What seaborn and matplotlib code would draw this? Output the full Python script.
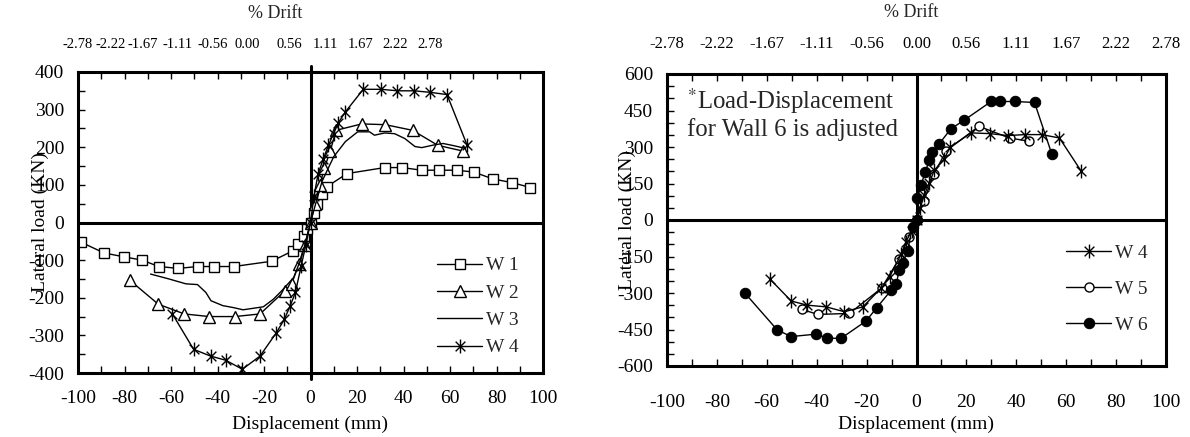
import matplotlib
matplotlib.use("Agg")
import matplotlib.pyplot as plt
from matplotlib.path import Path
from matplotlib.ticker import MultipleLocator
import seaborn as sns
import pandas as pd

# envelope curves (displacement mm, lateral load kN)
w1_x = [-98.8, -88.8, -80.4, -72.5, -65.2, -56.8, -48.6, -41.3, -33.0, -16.7, -7.5, -5.2, -3.0, -1.5, 0, 1.5, 3.0, 5.0, 7.0, 15.7, 31.9, 39.4, 47.8, 55.4, 62.8, 70.3, 78.3, 86.7, 94.6]
w1_y = [-52, -81, -91, -100, -117, -122, -117, -117, -117, -103, -75, -57, -35, -18, 0, 25, 50, 76, 95, 130, 146, 146, 139, 139, 139, 134, 116, 106, 93]

w2_x = [-77.8, -65.5, -54.3, -43.5, -32.6, -21.7, -10.9, -8.1, -5.0, -2.5, 0, 2.0, 4.0, 6.0, 8.5, 11.0, 22.0, 32.2, 43.9, 54.8, 65.5]
w2_y = [-153, -217, -243, -250, -250, -243, -181, -163, -110, -60, 0, 50, 100, 145, 190, 245, 262, 260, 245, 205, 190]

w3_x = [-68.8, -60.9, -53.6, -48.6, -45.0, -42.8, -37.7, -33.3, -29.0, -24.6, -20.3, -16.0, -12.3, -7.2, -4.0, -2.0, 0, 2.0, 5.0, 10.0, 15.0, 20.3, 25.4, 27.5, 31.9, 36.2, 40.6, 44.9, 47.8, 53.0, 57.0, 61.0, 66.7]
w3_y = [-137, -150, -163, -165, -186, -208, -221, -226, -232, -228, -224, -204, -181, -146, -95, -50, 0, 45, 110, 175, 215, 241, 241, 232, 238, 236, 223, 202, 199, 206, 210, 205, 197]

w4_x = [-59.4, -50.3, -43.0, -36.5, -29.3, -21.7, -14.8, -11.2, -8.7, -6.5, -4.0, -2.0, 0, 1.5, 3.3, 5.5, 7.7, 9.9, 12.0, 15.0, 22.7, 30.4, 37.4, 44.5, 51.4, 58.7, 67.4]
w4_y = [-243, -337, -355, -366, -390, -355, -294, -257, -221, -186, -115, -60, 0, 70, 130, 169, 205, 236, 265, 294, 354, 354, 350, 350, 346, 340, 205]

# right panel
r4_x = [-58.9, -50.2, -43.8, -36.2, -28.9, -21.5, -14.1, -10.8, -6.1, -4.3, -2.0, 0, 1.5, 3.1, 5.2, 7.1, 11.2, 13.5, 21.9, 29.3, 36.6, 43.6, 50.2, 57.3, 66.0]
r4_y = [-241, -333, -350, -357, -377, -357, -279, -234, -139, -91, -45, 0, 50, 102, 154, 204, 252, 300, 358, 355, 347, 351, 351, 337, 201]

w5_x = [-46.0, -39.6, -26.9, -14.0, -7.0, -3.0, 0, 3.0, 7.0, 12.0, 25.0, 37.3, 44.9]
w5_y = [-367, -388, -384, -280, -160, -70, 0, 80, 190, 285, 385, 337, 324]

w6_x = [-68.9, -55.8, -50.2, -40.2, -35.8, -30.2, -20.2, -15.9, -10.1, -8.1, -7.0, -5.6, -3.6, -1.6, 0, 0.4, 1.8, 3.5, 5.1, 6.4, 9.1, 13.8, 19.1, 29.9, 33.5, 39.3, 47.3, 54.2]
w6_y = [-299, -452, -479, -469, -486, -486, -415, -360, -288, -265, -207, -177, -129, -27, 0, 89, 143, 197, 245, 279, 313, 375, 410, 487, 487, 487, 483, 272]

mm_ticks = list(range(-100, 101, 20))
drift_labels = ["-2.78", "-2.22", "-1.67", "-1.11", "-0.56", "0.00", "0.56", "1.11", "1.67", "2.22", "2.78"]
# the drift labels of the left chart sit in a narrower band than the mm axis
left_drift_pos = [-100, -86, -72, -57, -42, -27, -9, 6.5, 21.5, 36.5, 51.5]

sns.set_theme(style="ticks")
plt.rcParams["font.family"] = ["Liberation Serif", "DejaVu Serif"]
plt.rcParams["mathtext.fontset"] = "stix"
plt.rcParams["axes.unicode_minus"] = False

# excel style asterisk: x plus a vertical bar
star = Path([(0, -1), (0, 1), (-0.7, -0.7), (0.7, 0.7), (-0.7, 0.7), (0.7, -0.7)],
            [Path.MOVETO, Path.LINETO, Path.MOVETO, Path.LINETO, Path.MOVETO, Path.LINETO])

fig = plt.figure(figsize=(11.9, 4.37), dpi=100)
ax1 = fig.add_axes([78 / 1190, 64 / 437, 465 / 1190, 301 / 437])
ax2 = fig.add_axes([667 / 1190, 71 / 437, 499 / 1190, 292 / 437])


def draw(ax, x, y, label, z=2, **kw):
    df = pd.DataFrame({"disp": x, "load": y})
    sns.lineplot(data=df, x="disp", y="load", sort=False, estimator=None, ax=ax,
                 color="black", lw=1.0, label=label, zorder=z, **kw)


draw(ax1, w1_x, w1_y, "W 1", marker="s", ms=6.5, mfc="white", mec="black", mew=1.0)
draw(ax1, w2_x, w2_y, "W 2", marker="^", ms=8, mfc="white", mec="black", mew=1.0)
draw(ax1, w3_x, w3_y, "W 3")
draw(ax1, w4_x, w4_y, "W 4", marker=star, ms=10, mec="black", mew=1.0)

draw(ax2, r4_x, r4_y, "W 4", z=3, marker=star, ms=10, mec="black", mew=1.0)
draw(ax2, w5_x, w5_y, "W 5", z=2, marker="o", ms=6.5, mfc="white", mec="black", mew=1.0)
draw(ax2, w6_x, w6_y, "W 6", z=4, marker="o", ms=7.5, mfc="black", mec="black")

for ax, ylim, ymaj, ylab_x, xlab_y in [(ax1, 400, 100, -0.063, -0.143), (ax2, 600, 150, -0.062, -0.171)]:
    ax.set_xlim(-100, 100)
    ax.set_ylim(-ylim, ylim)
    ax.xaxis.set_major_locator(MultipleLocator(20))
    ax.xaxis.set_minor_locator(MultipleLocator(10))
    ax.yaxis.set_major_locator(MultipleLocator(ymaj))
    ax.yaxis.set_minor_locator(MultipleLocator(50))
    ax.tick_params(which="both", direction="in", length=5, width=1.0, top=True, right=False,
                   colors="black", labelsize=14)
    ax.tick_params(axis="x", pad=12)
    ax.tick_params(axis="y", pad=10)
    for s in ax.spines.values():
        s.set_linewidth(2.2)
        s.set_color("black")
    ax.axhline(0, color="black", lw=2.2, zorder=1)
    ax.set_xlabel("Displacement (mm)", fontsize=14, color="black")
    ax.set_ylabel("Lateral load (KN)", fontsize=14, color="black")
    ax.xaxis.set_label_coords(0.5, xlab_y)
    ax.yaxis.set_label_coords(ylab_x, 0.5)
    ax.set_facecolor("white")

ax1.axvline(0, ymin=-0.02, ymax=1.02, color="black", lw=2.2, zorder=1, clip_on=False)
ax2.axvline(0, color="black", lw=2.2, zorder=1)
ax2.tick_params(axis="x", pad=20)

# % drift axis on top
for ax, pos, ytxt, xtxt, pad, fs in [(ax1, left_drift_pos, 1.195, 0.424, 15, 10.5),
                                     (ax2, mm_ticks, 1.21, 0.49, 16, 12)]:
    sec = ax.secondary_xaxis("top")
    sec.set_xticks(pos, drift_labels)
    sec.tick_params(length=0, pad=pad, labelsize=fs, colors="black")
    sec.spines["top"].set_visible(False)
    ax.text(xtxt, ytxt, "% Drift", transform=ax.transAxes, ha="center", va="center", fontsize=13)

ax1.legend(loc="lower right", bbox_to_anchor=(0.985, -0.003), frameon=False, fontsize=14,
           handlelength=2.3, labelspacing=0.5, handletextpad=0.2)
ax2.legend(loc="lower right", bbox_to_anchor=(0.998, 0.05), frameon=False, fontsize=14,
           handlelength=2.3, labelspacing=0.95, handletextpad=0.2)

ax2.text(0.04, 0.96, "$^{*}$Load-Displacement\nfor Wall 6 is adjusted", transform=ax2.transAxes,
         ha="left", va="top", fontsize=17.8, linespacing=1.12)

fig.savefig("out.png", dpi=100, facecolor="white")
